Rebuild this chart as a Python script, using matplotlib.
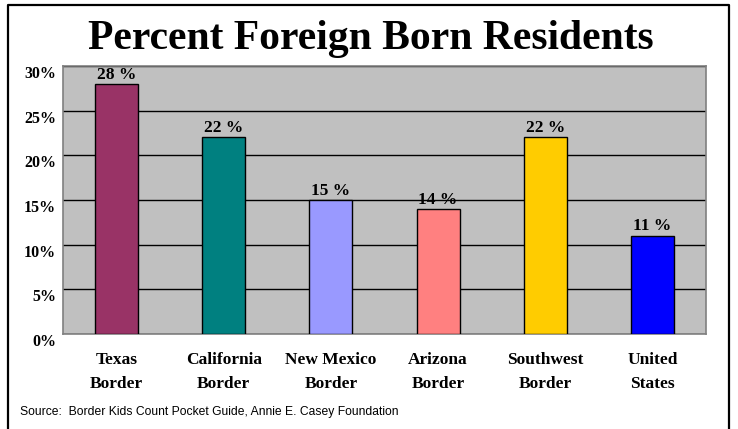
import matplotlib.pyplot as plt
from matplotlib.lines import Line2D

categories = ['Texas\nBorder', 'California\nBorder', 'New Mexico\nBorder',
              'Arizona\nBorder', 'Southwest\nBorder', 'United\nStates']
percent_foreign = [28, 22, 15, 14, 22, 11]
bar_colors = ['#993366', '#008080', '#9999FF', '#FF8080', '#FFCC00', '#0000FF']
y_ticks = [0, 5, 10, 15, 20, 25, 30]

fig = plt.figure(figsize=(7.38, 4.29), dpi=100)
ax = fig.add_axes([63 / 738, 1 - 334 / 429, 643 / 738, 268 / 429])

# frame around the chart (bottom edge runs off the image)
fig.add_artist(Line2D([8 / 738, 8 / 738, 729 / 738, 729 / 738],
                      [-0.1, 1 - 5 / 429, 1 - 5 / 429, -0.1],
                      transform=fig.transFigure, color='black', lw=1.6))

ax.set_facecolor('#C0C0C0')
x = range(len(categories))
ax.bar(x, percent_foreign, width=0.4, color=bar_colors, edgecolor='black',
       linewidth=1.0, zorder=3)

for i, v in enumerate(percent_foreign):
    ax.text(i, v + 0.15, '%d %%' % v, ha='center', va='bottom',
            family='Liberation Serif', fontweight='bold', fontsize=12.5)

ax.set_xlim(-0.5, len(categories) - 0.5)
ax.set_ylim(0, 30)
ax.set_yticks(y_ticks)
ax.set_yticklabels(['%d%%' % t for t in y_ticks], family='Liberation Serif',
                   fontweight='bold', fontsize=11.5, va='top')
ax.set_xticks(list(x))
ax.set_xticklabels(categories, family='Liberation Serif', fontweight='bold',
                   fontsize=12.5, linespacing=1.7)
ax.tick_params(axis='both', length=0)
ax.tick_params(axis='y', pad=5)
ax.tick_params(axis='x', pad=13)
ax.yaxis.grid(True, color='black', linewidth=1.0, zorder=1)
ax.set_axisbelow(True)
for side in ax.spines.values():
    side.set_color('#808080')
    side.set_linewidth(1.2)

fig.text(0.5 * (8 + 729) / 738 + 2 / 738, 1 - 39 / 429,
         'Percent Foreign Born Residents',
         ha='center', va='center', family='Liberation Serif',
         fontweight='bold', fontsize=30)
fig.text(20 / 738, 1 - 412 / 429,
         'Source:  Border Kids Count Pocket Guide, Annie E. Casey Foundation',
         ha='left', va='center', family='Liberation Sans', fontsize=8.7)

fig.savefig('out.png', dpi=100)
